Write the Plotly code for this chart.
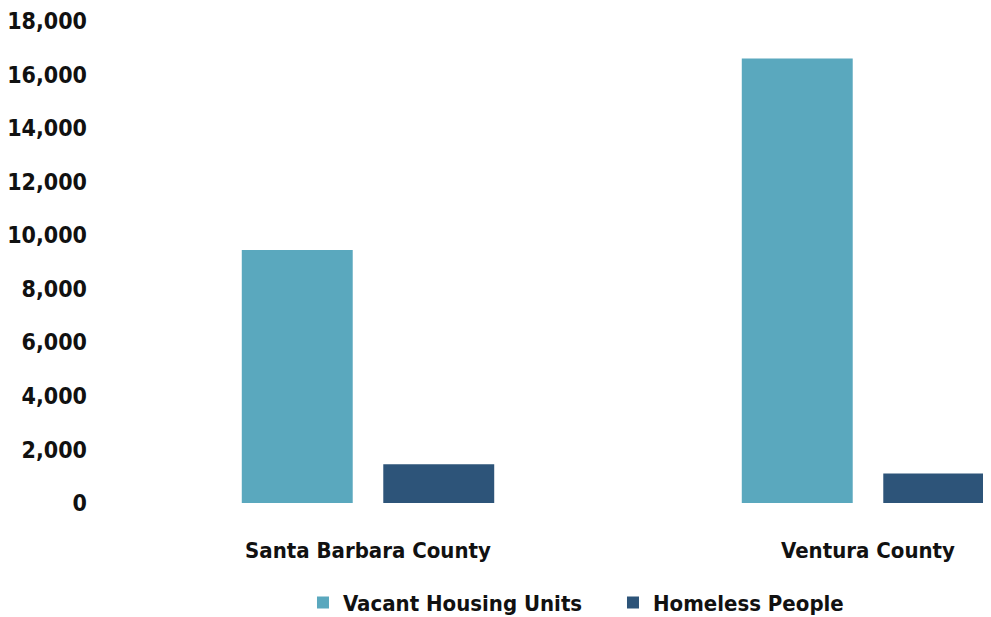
import plotly.graph_objects as go

categories = ["Santa Barbara County", "Ventura County"]
vacant_units = [9450, 16600]
homeless_people = [1450, 1100]
y_ticks = [0, 2000, 4000, 6000, 8000, 10000, 12000, 14000, 16000, 18000]
y_tick_labels = ["0", "2,000", "4,000", "6,000", "8,000", "10,000", "12,000", "14,000", "16,000", "18,000"]

FONT = "DejaVu Sans Condensed"

fig = go.Figure()
fig.add_trace(go.Bar(name="Vacant Housing Units", x=categories, y=vacant_units,
                     marker=dict(color="#5AA8BE", line=dict(width=0))))
fig.add_trace(go.Bar(name="Homeless People", x=categories, y=homeless_people,
                     marker=dict(color="#2D5479", line=dict(width=0))))

fig.update_layout(
    width=991, height=617,
    margin=dict(l=110, r=8, t=13, b=122, autoexpand=False),
    paper_bgcolor="white", plot_bgcolor="white",
    barmode="group", bargap=0.434, bargroupgap=0.216,
    font=dict(family=FONT, color="#111111", size=22, weight="bold"),
    showlegend=True,
    legend=dict(orientation="h", x=0.567, xanchor="center", y=-0.207, yanchor="middle",
                font=dict(family=FONT, size=22, color="#111111", weight="bold"), itemwidth=30,
                entrywidth=265, entrywidthmode="pixels",
                bgcolor="rgba(0,0,0,0)"),
    xaxis=dict(range=[-0.5, 1.246], showgrid=False, showline=False, zeroline=False,
               ticks="", automargin=False,
               tickfont=dict(family=FONT, size=22, color="#111111", weight="bold"),
               ticklabelstandoff=32),
    yaxis=dict(range=[0, 18000], tickvals=y_ticks, ticktext=y_tick_labels,
               showgrid=False, showline=False, zeroline=False, ticks="", automargin=False,
               ticklabeloverflow="allow",
               tickfont=dict(family=FONT, size=23, color="#111111", weight="bold"),
               ticklabelstandoff=30),
)

fig.write_html("out.html")
